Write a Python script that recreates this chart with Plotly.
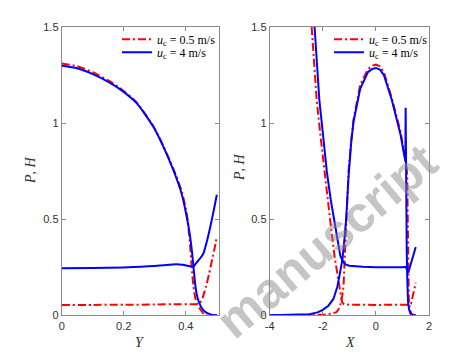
import plotly.graph_objects as go

# ---------------- data ----------------
# Left panel: P, H versus Y
y_red_P = [0, 0.05, 0.1, 0.15, 0.1875, 0.2415, 0.295, 0.3275, 0.36, 0.387, 0.403, 0.41, 0.415, 0.419, 0.424, 0.43, 0.4355, 0.445, 0.452, 0.462, 0.48, 0.5]
p_red_left = [1.31, 1.296, 1.265, 1.222, 1.183, 1.108, 0.985, 0.882, 0.762, 0.645, 0.53, 0.43, 0.34, 0.25, 0.16, 0.095, 0.062, 0.035, 0.019, 0.0, 0.0, 0.0]

y_blue_P = [0, 0.05, 0.1, 0.15, 0.1875, 0.2415, 0.295, 0.3275, 0.36, 0.387, 0.403, 0.413, 0.42, 0.426, 0.432, 0.438, 0.446, 0.455, 0.465, 0.48, 0.5]
p_blue_left = [1.298, 1.285, 1.255, 1.215, 1.177, 1.104, 0.982, 0.878, 0.755, 0.63, 0.513, 0.42, 0.33, 0.23, 0.14, 0.09, 0.054, 0.03, 0.015, 0.005, 0.0]

y_red_H = [0, 0.1, 0.2, 0.3, 0.38, 0.42, 0.44, 0.445, 0.455, 0.465, 0.475, 0.485, 0.493, 0.5]
h_red_left = [0.054, 0.054, 0.055, 0.056, 0.058, 0.057, 0.058, 0.062, 0.095, 0.15, 0.215, 0.29, 0.35, 0.41]

y_blue_H = [0, 0.1, 0.2, 0.3, 0.35, 0.37, 0.39, 0.41, 0.424, 0.435, 0.447, 0.457, 0.468, 0.479, 0.49, 0.5]
h_blue_left = [0.245, 0.246, 0.249, 0.256, 0.263, 0.266, 0.263, 0.256, 0.253, 0.275, 0.298, 0.323, 0.385, 0.461, 0.545, 0.627]

# Right panel: P, H versus X
x_red_P = [-4, -3, -2.5, -2, -1.7, -1.5, -1.41, -1.3, -1.22, -1.17, -1.12, -1.03, -0.93, -0.84, -0.59, -0.3, -0.15, 0, 0.15, 0.3, 0.6, 0.92, 1.06, 1.15, 1.18, 1.19, 1.2, 1.22, 1.24, 1.28, 1.35, 1.5]
p_red_right = [0, 0, 0, 0.003, 0.008, 0.015, 0.03, 0.07, 0.15, 0.3, 0.48, 0.75, 0.91, 1.02, 1.2, 1.28, 1.298, 1.304, 1.295, 1.265, 1.13, 0.96, 0.855, 0.78, 0.72, 0.6, 0.4, 0.2, 0.08, 0.03, 0.005, 0]

x_blue_P = [-4, -3, -2.5, -2.2, -2, -1.79, -1.6, -1.45, -1.35, -1.26, -1.19, -1.12, -1.03, -0.93, -0.84, -0.59, -0.3, -0.15, 0, 0.15, 0.3, 0.6, 0.92, 1.06, 1.11, 1.12, 1.125, 1.14, 1.16, 1.18, 1.21, 1.25, 1.3, 1.37, 1.5]
p_blue_right = [0, 0.001, 0.005, 0.015, 0.028, 0.05, 0.085, 0.15, 0.22, 0.29, 0.39, 0.5, 0.72, 0.9, 1.01, 1.18, 1.265, 1.281, 1.287, 1.279, 1.25, 1.12, 0.945, 0.84, 0.80, 1.08, 0.8, 0.6, 0.35, 0.2, 0.07, 0.03, 0.01, 0.0, 0.0]

x_red_H = [-2.42, -2.33, -2.23, -2.1, -1.95, -1.8, -1.66, -1.55, -1.47, -1.4, -1.34, -1.28, -1.2, -1.0, 0, 1.0, 1.25, 1.32, 1.38, 1.43, 1.5]
h_red_right = [1.5, 1.3, 1.12, 0.95, 0.76, 0.59, 0.42, 0.3, 0.23, 0.16, 0.1, 0.07, 0.057, 0.055, 0.054, 0.054, 0.055, 0.06, 0.09, 0.125, 0.17]

x_blue_H = [-2.31, -2.2, -2.13, -2.0, -1.85, -1.7, -1.57, -1.48, -1.41, -1.34, -1.26, -1.15, -1.0, -0.5, 0, 0.5, 1.0, 1.12, 1.17, 1.22, 1.3, 1.4, 1.5]
h_blue_right = [1.5, 1.27, 1.12, 0.95, 0.75, 0.6, 0.49, 0.41, 0.35, 0.31, 0.285, 0.265, 0.258, 0.252, 0.25, 0.249, 0.25, 0.252, 0.24, 0.222, 0.26, 0.305, 0.355]

legend_red = "<i>u</i><sub>c</sub> = 0.5 m/s"
legend_blue = "<i>u</i><sub>c</sub> = 4 m/s"

y_ticks = [0, 0.5, 1, 1.5]
y_ticktext = ["0", "0.5", "1", "1.5"]
x_left_ticks = [0, 0.2, 0.4]
x_left_ticktext = ["0", "0.2", "0.4"]
x_right_ticks = [-4, -2, 0, 2]
x_right_ticktext = ["-4", "-2", "0", "2"]

watermark = "<b>manuscript</b>"

# ---------------- styling ----------------
RED = "#ff0000"
BLUE = "#0000ff"
LW = 2
DASHDOT = "8px,3px,2px,3px"
W, H = 474, 355

def px_x(p):
    return p / W

def px_y(p):
    return 1 - p / H

fig = go.Figure()

def add(x, y, color, dash, xa, ya, name=None, legend=None, shape="linear"):
    fig.add_trace(go.Scatter(
        x=x, y=y, mode="lines", xaxis=xa, yaxis=ya,
        line=dict(color=color, width=LW, dash=dash, shape=shape,
                  **({"smoothing": 0.6} if shape == "spline" else {})),
        name=name if name else "", showlegend=legend is not None,
        legend=legend if legend else "legend", hoverinfo="skip",
    ))

# left panel
add(y_red_P, p_red_left, RED, DASHDOT, "x", "y", legend_red, "legend", "spline")
add(y_red_H, h_red_left, RED, DASHDOT, "x", "y", shape="spline")
add(y_blue_P, p_blue_left, BLUE, "solid", "x", "y", legend_blue, "legend2", "spline")
add(y_blue_H, h_blue_left, BLUE, "solid", "x", "y", shape="spline")
# right panel
add(x_red_P, p_red_right, RED, DASHDOT, "x2", "y2", legend_red, "legend3")
add(x_red_H, h_red_right, RED, DASHDOT, "x2", "y2")
add(x_blue_P, p_blue_right, BLUE, "solid", "x2", "y2", legend_blue, "legend4")
add(x_blue_H, h_blue_right, BLUE, "solid", "x2", "y2")

axis_common = dict(
    showline=True, linecolor="#8a8a8a", linewidth=1, mirror="ticks",
    ticks="inside", ticklen=4, tickcolor="#8a8a8a", tickwidth=1,
    showgrid=False, zeroline=False,
    tickfont=dict(family="Liberation Sans, Arial", size=11, color="#303030"),
)

y_dom = [px_y(315.3), px_y(27)]
fig.update_layout(
    width=W, height=H, autosize=False,
    margin=dict(l=0, r=0, t=0, b=0, autoexpand=False),
    paper_bgcolor="white", plot_bgcolor="white",
    xaxis=dict(domain=[px_x(61.7), px_x(219.3)], range=[0, 0.508], anchor="y",
               tickvals=x_left_ticks, ticktext=x_left_ticktext, **axis_common),
    yaxis=dict(domain=y_dom, range=[0, 1.5], anchor="x",
               tickvals=y_ticks, ticktext=y_ticktext, **axis_common),
    xaxis2=dict(domain=[px_x(269.7), px_x(429)], range=[-4, 2], anchor="y2",
                tickvals=x_right_ticks, ticktext=x_right_ticktext, **axis_common),
    yaxis2=dict(domain=y_dom, range=[0, 1.5], anchor="x2",
                tickvals=y_ticks, ticktext=y_ticktext, **axis_common),
    showlegend=True,
)

leg_common = dict(bgcolor="rgba(0,0,0,0)", borderwidth=0, itemwidth=30,
                  font=dict(family="Liberation Serif, DejaVu Serif", size=12, color="#000"),
                  xanchor="left", yanchor="middle")
fig.update_layout(
    legend=dict(x=px_x(117), y=px_y(39.3), **leg_common),
    legend2=dict(x=px_x(117), y=px_y(52.3), **leg_common),
    legend3=dict(x=px_x(329), y=px_y(39.3), **leg_common),
    legend4=dict(x=px_x(329), y=px_y(52.3), **leg_common),
)

# axis titles
title_font = dict(family="Liberation Serif, DejaVu Serif", size=14, color="#303030")
for txt, xp, yp, ang in [("<i>Y</i>", 140, 342, 0), ("<i>X</i>", 350, 342, 0),
                         ("<i>P</i>, <i>H</i>", 30, 170, -90), ("<i>P</i>, <i>H</i>", 239, 167, -90)]:
    fig.add_annotation(text=txt, x=px_x(xp), y=px_y(yp), xref="paper", yref="paper",
                       xanchor="center", yanchor="middle", showarrow=False,
                       textangle=ang, font=title_font)

# watermark
fig.add_annotation(text=watermark, x=px_x(327), y=px_y(241), xref="paper", yref="paper",
                   xanchor="center", yanchor="middle", showarrow=False, textangle=-40,
                   font=dict(family="Liberation Sans, Arial", size=50, color="rgba(140,140,140,0.5)"))

fig.write_html("out.html", config={"displayModeBar": False},
               post_script="document.body.style.margin='0';document.body.style.overflow='hidden';")
